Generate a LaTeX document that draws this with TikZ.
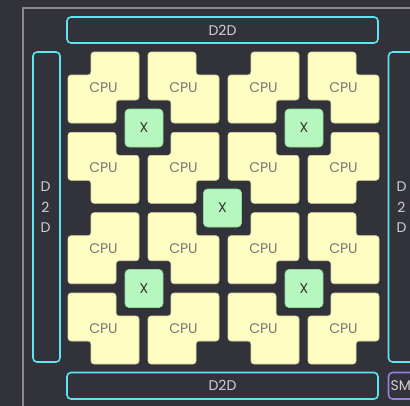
\documentclass[tikz,border=0pt]{standalone}
\usepackage{fontspec}
\setmainfont{Poppins}
\definecolor{bg}{HTML}{32333A}
\definecolor{frame}{HTML}{8A8A8A}
\definecolor{cyanline}{HTML}{5CE6F0}
\definecolor{purpleline}{HTML}{9A7FE0}
\definecolor{cpufill}{HTML}{FFFEC2}
\definecolor{cpuedge}{HTML}{D9D7A6}
\definecolor{cputext}{HTML}{777777}
\definecolor{xfill}{HTML}{B5F7BE}
\definecolor{xedge}{HTML}{8FD89A}
\definecolor{dtext}{HTML}{D0D0D0}
\tikzset{
  cpubox/.style={fill=cpufill, draw=cpuedge, line width=0.6pt, rounded corners=3pt},
  cpulabel/.style={text=cputext, font=\fontsize{14}{16}\selectfont, inner sep=0pt},
  xbox/.style={fill=xfill, draw=xedge, line width=0.6pt, rounded corners=4pt, minimum width=38pt, minimum height=38pt, inner sep=0pt, text=black!80, font=\fontsize{14}{16}\selectfont},
  d2dbox/.style={draw=cyanline, line width=1.6pt, rounded corners=4pt},
  smbox/.style={draw=purpleline, line width=1.6pt, rounded corners=4pt},
  d2dlabel/.style={text=dtext, font=\fontsize{14}{20.5}\selectfont, inner sep=0pt, align=center},
}
% CPU with top-left and bottom-right corners cut
\newcommand{\cpuA}[3]{%
  \draw[cpubox] (#1+23,#2) -- (#1+71,#2) -- (#1+71,#2+48) -- (#1+48,#2+48) -- (#1+48,#2+71) -- (#1,#2+71) -- (#1,#2+23) -- (#1+23,#2+23) -- cycle;
  \node[cpulabel] (#3) at (#1+35.5,#2+35.5) {CPU};}
% CPU with top-right and bottom-left corners cut
\newcommand{\cpuB}[3]{%
  \draw[cpubox] (#1,#2) -- (#1+48,#2) -- (#1+48,#2+23) -- (#1+71,#2+23) -- (#1+71,#2+71) -- (#1+23,#2+71) -- (#1+23,#2+48) -- (#1,#2+48) -- cycle;
  \node[cpulabel] (#3) at (#1+35.5,#2+35.5) {CPU};}
\begin{document}
\begin{tikzpicture}[x=1pt,y=-1pt]
\useasboundingbox (0,0) rectangle (410,405);
\clip (0,0) rectangle (410,405);
\fill[bg] (-5,-5) rectangle (415,410);
% outer frame
\draw[frame, line width=2pt] (23.3,420) -- (23.3,8) -- (420,8);
% D2D boxes
\draw[d2dbox] (67,17) rectangle (378,43);
\node[d2dlabel] (d2dtop) at (222.5,30) {D2D};
\draw[d2dbox] (67,372.5) rectangle (378,399);
\node[d2dlabel] (d2dbot) at (222.5,385.5) {D2D};
\draw[d2dbox] (33,52) rectangle (60,362);
\node[d2dlabel] (d2dleft) at (45.5,207.5) {D\\2\\D};
\draw[d2dbox] (388.5,52) rectangle (416,362);
\node[d2dlabel] (d2dright) at (401.5,207.5) {D\\2\\D};
\draw[smbox] (388.5,372.5) rectangle (440,399);
\node[d2dlabel, anchor=west] (sm) at (390.5,385.5) {SM};
% CPU grid
\cpuA{68}{52}{c11}   \cpuB{148}{52}{c12}   \cpuA{228}{52}{c13}   \cpuB{308}{52}{c14}
\cpuB{68}{132.3}{c21} \cpuA{148}{132.3}{c22} \cpuB{228}{132.3}{c23} \cpuA{308}{132.3}{c24}
\cpuA{68}{212.7}{c31} \cpuB{148}{212.7}{c32} \cpuA{228}{212.7}{c33} \cpuB{308}{212.7}{c34}
\cpuB{68}{293}{c41}  \cpuA{148}{293}{c42}  \cpuB{228}{293}{c43}  \cpuA{308}{293}{c44}
% crossbars
\node[xbox] (x1) at (144,128) {X};
\node[xbox] (x2) at (304,128) {X};
\node[xbox] (x3) at (144,288.5) {X};
\node[xbox] (x4) at (304,288.5) {X};
\node[xbox] (x5) at (222.5,208) {X};
\end{tikzpicture}
\end{document}
